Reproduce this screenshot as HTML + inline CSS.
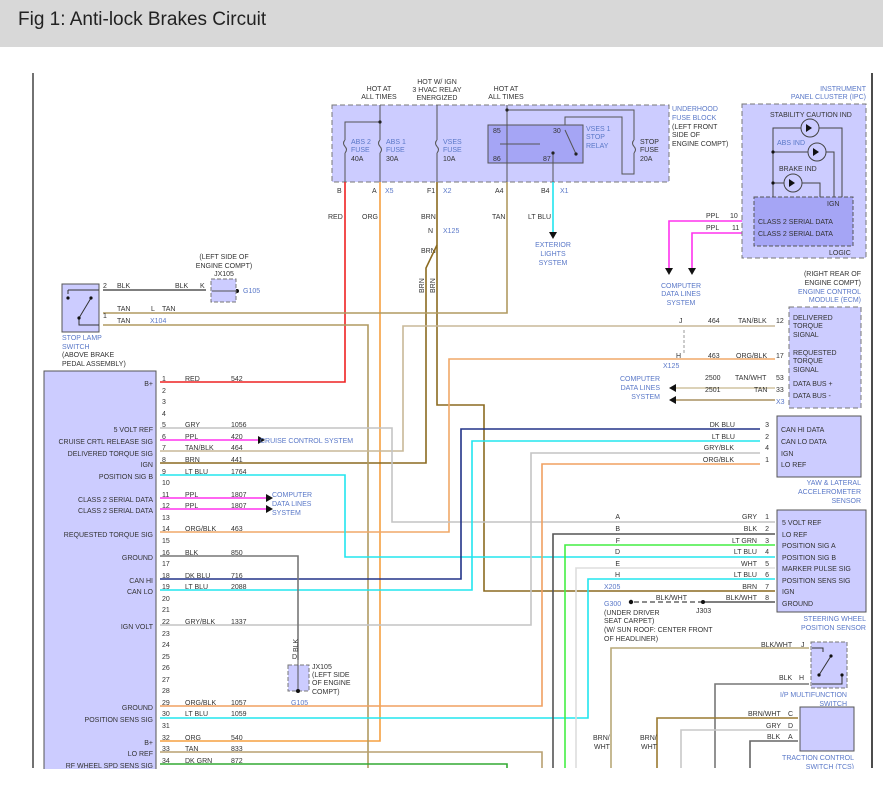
<!DOCTYPE html>
<html><head><meta charset="utf-8"><style>
html,body{margin:0;padding:0;background:#fff;width:883px;height:798px;overflow:hidden}
svg text{font-family:"Liberation Sans",sans-serif;font-size:7px;fill:#333}
svg text.b{fill:#5a78c8}
</style></head><body>
<svg width="883" height="798" viewBox="0 0 883 798" xmlns="http://www.w3.org/2000/svg">
<rect x="0" y="0" width="883" height="47" fill="#d8d8d8"/>
<text x="18" y="25" style="font-size:19px;fill:#222">Fig 1: Anti-lock Brakes Circuit</text>
<line x1="33" y1="73" x2="33" y2="768" stroke="#444" stroke-width="1.5"/>
<line x1="872" y1="73" x2="872" y2="768" stroke="#111" stroke-width="1.5"/>

<!-- fuse block -->
<rect x="332" y="105" width="337" height="77" fill="#ccccff" stroke="#777" stroke-dasharray="5,3"/>
<rect x="488" y="125" width="95" height="38" fill="#a5a5f5" stroke="#555"/>
<g stroke="#555" fill="none" stroke-width="1">
<path d="M380 105V140M380 153V182M345 182V153M345 140V122H380M437 105V140M437 153V182M507 105V182M553 153V182"/>
<path d="M345 140q-3 3 0 6.5q3 3 0 6.5M380 140q-3 3 0 6.5q3 3 0 6.5M437 140q-3 3 0 6.5q3 3 0 6.5M634 140q-3 3 0 6.5q3 3 0 6.5"/>
<path d="M507 110H634V140M634 153V174H622V117H565V125M565 130L576 154M500 144H540"/>
</g>
<g fill="#222"><circle cx="380" cy="122" r="1.6"/><circle cx="507" cy="110" r="1.6"/><circle cx="553" cy="153" r="1.6"/><circle cx="576" cy="154" r="1.6"/></g>
<text x="379" y="91" text-anchor="middle">HOT AT</text><text x="379" y="99" text-anchor="middle">ALL TIMES</text>
<text x="437" y="84" text-anchor="middle">HOT W/ IGN</text><text x="437" y="92" text-anchor="middle">3 HVAC RELAY</text><text x="437" y="100" text-anchor="middle">ENERGIZED</text>
<text x="506" y="91" text-anchor="middle">HOT AT</text><text x="506" y="99" text-anchor="middle">ALL TIMES</text>
<text x="351" y="144" class="b">ABS 2</text><text x="351" y="152" class="b">FUSE</text><text x="351" y="161">40A</text>
<text x="386" y="144" class="b">ABS 1</text><text x="386" y="152" class="b">FUSE</text><text x="386" y="161">30A</text>
<text x="443" y="144" class="b">VSES</text><text x="443" y="152" class="b">FUSE</text><text x="443" y="161">10A</text>
<text x="493" y="133">85</text><text x="493" y="161">86</text><text x="553" y="133">30</text><text x="543" y="161">87</text>
<text x="586" y="131" class="b">VSES 1</text><text x="586" y="139" class="b">STOP</text><text x="586" y="148" class="b">RELAY</text>
<text x="640" y="144">STOP</text><text x="640" y="152">FUSE</text><text x="640" y="161">20A</text>
<text x="672" y="111" class="b">UNDERHOOD</text><text x="672" y="120" class="b">FUSE BLOCK</text><text x="672" y="129">(LEFT FRONT</text><text x="672" y="137">SIDE OF</text><text x="672" y="146">ENGINE COMPT)</text>
<text x="337" y="193">B</text><text x="372" y="193">A</text><text x="385" y="193" class="b">X5</text><text x="427" y="193">F1</text><text x="443" y="193" class="b">X2</text><text x="495" y="193">A4</text><text x="541" y="193">B4</text><text x="560" y="193" class="b">X1</text>
<text x="328" y="219">RED</text><text x="362" y="219">ORG</text><text x="421" y="219">BRN</text><text x="492" y="219">TAN</text><text x="528" y="219">LT BLU</text>
<text x="428" y="233">N</text><text x="443" y="233" class="b">X125</text><text x="421" y="253">BRN</text>
<text transform="translate(424,293) rotate(-90)">BRN</text><text transform="translate(435,293) rotate(-90)">BRN</text>

<!-- wires -->
<g fill="none" stroke-width="1.6">
<path d="M345 182V382H160" stroke="#ee2222"/>
<path d="M380 182V741H160" stroke="#f5a040"/>
<path d="M437 182V405H484V591H775" stroke="#8b6a20"/>
<path d="M437 245L426 268V463H160" stroke="#8b6a20"/>
<path d="M507 182V313H103" stroke="#b09a60"/>
<path d="M103 325H368V768" stroke="#b09a60"/>
<path d="M553 182V232" stroke="#22e5ee"/>
<path d="M160 451H403V326H775" stroke="#c8b898"/>
<path d="M160 532H449V359H775" stroke="#f0a868"/>
<path d="M160 428H392V522H775" stroke="#c4c4c4"/>
<path d="M160 475H345V557H775" stroke="#22e5ee"/>
<path d="M160 579H461V429H760" stroke="#223388"/>
<path d="M160 590H472V441H760" stroke="#22e5ee"/>
<path d="M160 625H531V453H760" stroke="#c4c4c4"/>
<path d="M160 706H542V464H760" stroke="#f0a060"/>
<path d="M160 718H588V579H775" stroke="#22e5ee"/>
<path d="M160 752H542V768" stroke="#b8a070"/>
<path d="M160 764H507V768" stroke="#33aa33"/>
<path d="M160 556H298V660" stroke="#777"/>
<path d="M160 440H258" stroke="#ff33ee"/>
<path d="M160 498H266M160 509H266" stroke="#ff33ee"/>
<path d="M744 221H669V268M744 233H692V268" stroke="#ff33ee"/>
<path d="M775 534H553V768" stroke="#555"/>
<path d="M775 545H565V768" stroke="#44ee44"/>
<path d="M775 568H576V768" stroke="#dddddd"/>
<path d="M103 290H206" stroke="#555"/>
<path d="M775 388H676" stroke="#d0c4a0"/>
<path d="M775 400H676" stroke="#a89060"/>
<path d="M809 648H611V768" stroke="#b8a878"/>
<path d="M809 684H715V768" stroke="#777"/>
<path d="M798 718H657V768" stroke="#9a7a30"/>
<path d="M798 730H681V768" stroke="#c8c8c8"/>
<path d="M798 741H750V768" stroke="#666"/>
<path d="M775 602H703" stroke="#555"/>
<path d="M703 602H631" stroke="#666" stroke-dasharray="5,3"/>
</g>
<g fill="#111">
<path d="M549 232h8l-4 7z"/><path d="M258 436v8l7-4z"/><path d="M266 494v8l7-4z"/><path d="M266 505v8l7-4z"/>
<path d="M665 268h8l-4 7z"/><path d="M688 268h8l-4 7z"/><path d="M676 384v8l-7-4z"/><path d="M676 396v8l-7-4z"/>
<circle cx="703" cy="602" r="2"/><circle cx="631" cy="602" r="2.2"/>
</g>
<text x="553" y="247" text-anchor="middle" class="b">EXTERIOR</text><text x="553" y="256" text-anchor="middle" class="b">LIGHTS</text><text x="553" y="265" text-anchor="middle" class="b">SYSTEM</text>

<!-- stop lamp & JX105 -->
<rect x="62" y="284" width="37" height="48" fill="#ccccff" stroke="#555"/>
<path d="M68 290H99M68 290V294M79 318L91 298M79 318V325H99" stroke="#333" fill="none"/>
<g fill="#111"><circle cx="68" cy="298" r="1.6"/><circle cx="91" cy="298" r="1.6"/><circle cx="79" cy="318" r="1.6"/><circle cx="237" cy="291" r="2"/></g>
<text x="103" y="288">2</text><text x="117" y="288">BLK</text><text x="175" y="288">BLK</text><text x="200" y="288">K</text>
<text x="103" y="318">1</text><text x="117" y="311">TAN</text><text x="151" y="311">L</text><text x="162" y="311">TAN</text><text x="117" y="323">TAN</text><text x="150" y="323" class="b">X104</text>
<rect x="211" y="279" width="25" height="23" fill="#ccccff" stroke="#777" stroke-dasharray="4,2"/>
<path d="M212 291H236" stroke="#555"/>
<text x="224" y="259" text-anchor="middle">(LEFT SIDE OF</text><text x="224" y="268" text-anchor="middle">ENGINE COMPT)</text><text x="224" y="276" text-anchor="middle">JX105</text><text x="243" y="293" class="b">G105</text>
<text x="62" y="340" class="b">STOP LAMP</text><text x="62" y="349" class="b">SWITCH</text><text x="62" y="357">(ABOVE BRAKE</text><text x="62" y="366">PEDAL ASSEMBLY)</text>

<!-- EBCM -->
<rect x="44" y="371" width="112" height="400" fill="#ccccff" stroke="#555"/>
<g>
<text x="162" y="381">1</text><text x="162" y="393">2</text><text x="162" y="404">3</text><text x="162" y="416">4</text><text x="162" y="427">5</text><text x="162" y="439">6</text><text x="162" y="450">7</text><text x="162" y="462">8</text><text x="162" y="474">9</text><text x="162" y="485">10</text><text x="162" y="497">11</text><text x="162" y="508">12</text><text x="162" y="520">13</text><text x="162" y="531">14</text><text x="162" y="543">15</text><text x="162" y="555">16</text><text x="162" y="566">17</text><text x="162" y="578">18</text><text x="162" y="589">19</text><text x="162" y="601">20</text><text x="162" y="612">21</text><text x="162" y="624">22</text><text x="162" y="636">23</text><text x="162" y="647">24</text><text x="162" y="659">25</text><text x="162" y="670">26</text><text x="162" y="682">27</text><text x="162" y="693">28</text><text x="162" y="705">29</text><text x="162" y="716">30</text><text x="162" y="728">31</text><text x="162" y="740">32</text><text x="162" y="751">33</text><text x="162" y="763">34</text>
</g>
<g text-anchor="end">
<text x="153" y="386">B+</text><text x="153" y="432">5 VOLT REF</text><text x="153" y="444">CRUISE CRTL RELEASE SIG</text><text x="153" y="456">DELIVERED TORQUE SIG</text><text x="153" y="467">IGN</text><text x="153" y="479">POSITION SIG B</text><text x="153" y="502">CLASS 2 SERIAL DATA</text><text x="153" y="513">CLASS 2 SERIAL DATA</text><text x="153" y="537">REQUESTED TORQUE SIG</text><text x="153" y="560">GROUND</text><text x="153" y="583">CAN HI</text><text x="153" y="594">CAN LO</text><text x="153" y="629">IGN VOLT</text><text x="153" y="710">GROUND</text><text x="153" y="722">POSITION SENS SIG</text><text x="153" y="745">B+</text><text x="153" y="756">LO REF</text><text x="153" y="768">RF WHEEL SPD SENS SIG</text>
</g>
<g>
<text x="185" y="381">RED</text><text x="231" y="381">542</text>
<text x="185" y="427">GRY</text><text x="231" y="427">1056</text>
<text x="185" y="439">PPL</text><text x="231" y="439">420</text>
<text x="185" y="450">TAN/BLK</text><text x="231" y="450">464</text>
<text x="185" y="462">BRN</text><text x="231" y="462">441</text>
<text x="185" y="474">LT BLU</text><text x="231" y="474">1764</text>
<text x="185" y="497">PPL</text><text x="231" y="497">1807</text>
<text x="185" y="508">PPL</text><text x="231" y="508">1807</text>
<text x="185" y="531">ORG/BLK</text><text x="231" y="531">463</text>
<text x="185" y="555">BLK</text><text x="231" y="555">850</text>
<text x="185" y="578">DK BLU</text><text x="231" y="578">716</text>
<text x="185" y="589">LT BLU</text><text x="231" y="589">2088</text>
<text x="185" y="624">GRY/BLK</text><text x="231" y="624">1337</text>
<text x="185" y="705">ORG/BLK</text><text x="231" y="705">1057</text>
<text x="185" y="716">LT BLU</text><text x="231" y="716">1059</text>
<text x="185" y="740">ORG</text><text x="231" y="740">540</text>
<text x="185" y="751">TAN</text><text x="231" y="751">833</text>
<text x="185" y="763">DK GRN</text><text x="231" y="763">872</text>
</g>
<text x="260" y="443" class="b">CRUISE CONTROL SYSTEM</text>
<text x="272" y="497" class="b">COMPUTER</text><text x="272" y="506" class="b">DATA LINES</text><text x="272" y="515" class="b">SYSTEM</text>
<rect x="288" y="665" width="21" height="26" fill="#ccccff" stroke="#777" stroke-dasharray="4,2"/>
<path d="M298 660V691" stroke="#555"/><circle cx="298" cy="691" r="2" fill="#111"/>
<text transform="translate(298,652) rotate(-90)">BLK</text><text x="292" y="659">D</text>
<text x="312" y="669">JX105</text><text x="312" y="677">(LEFT SIDE</text><text x="312" y="685">OF ENGINE</text><text x="312" y="694">COMPT)</text><text x="291" y="705" class="b">G105</text>

<!-- IPC -->
<rect x="742" y="104" width="124" height="154" fill="#ccccff" stroke="#777" stroke-dasharray="5,3"/>
<rect x="754" y="197" width="99" height="49" fill="#a5a5f5" stroke="#555" stroke-dasharray="4,2"/>
<g stroke="#444" fill="none">
<path d="M773 197V128H842V197M773 152H834V197M773 183H820V197"/>
<circle cx="810" cy="128" r="9" fill="#ccccff"/><circle cx="817" cy="152" r="9" fill="#ccccff"/><circle cx="793" cy="183" r="9" fill="#ccccff"/>
</g>
<g fill="#111"><path d="M806 124v8l6-4z"/><path d="M813 148v8l6-4z"/><path d="M789 179v8l6-4z"/><circle cx="773" cy="152" r="1.6"/><circle cx="773" cy="183" r="1.6"/></g>
<text x="866" y="91" text-anchor="end" class="b">INSTRUMENT</text><text x="866" y="99" text-anchor="end" class="b">PANEL CLUSTER (IPC)</text>
<text x="770" y="117">STABILITY CAUTION IND</text><text x="777" y="145" class="b">ABS IND</text><text x="779" y="171">BRAKE IND</text>
<text x="827" y="206">IGN</text><text x="758" y="224">CLASS 2 SERIAL DATA</text><text x="758" y="236">CLASS 2 SERIAL DATA</text><text x="829" y="255">LOGIC</text>
<text x="706" y="218">PPL</text><text x="730" y="218">10</text><text x="706" y="230">PPL</text><text x="732" y="230">11</text>
<text x="681" y="288" text-anchor="middle" class="b">COMPUTER</text><text x="681" y="296" text-anchor="middle" class="b">DATA LINES</text><text x="681" y="305" text-anchor="middle" class="b">SYSTEM</text>

<!-- ECM -->
<rect x="789" y="307" width="72" height="101" fill="#ccccff" stroke="#777" stroke-dasharray="5,3"/>
<g text-anchor="end"><text x="861" y="276">(RIGHT REAR OF</text><text x="861" y="285">ENGINE COMPT)</text><text x="861" y="294" class="b">ENGINE CONTROL</text><text x="861" y="302" class="b">MODULE (ECM)</text></g>
<text x="793" y="320">DELIVERED</text><text x="793" y="328">TORQUE</text><text x="793" y="337">SIGNAL</text>
<text x="793" y="355">REQUESTED</text><text x="793" y="363">TORQUE</text><text x="793" y="372">SIGNAL</text>
<text x="793" y="386">DATA BUS +</text><text x="793" y="398">DATA BUS -</text>
<text x="708" y="323">464</text><text x="738" y="323">TAN/BLK</text><text x="776" y="323">12</text><text x="679" y="323">J</text>
<text x="708" y="358">463</text><text x="736" y="358">ORG/BLK</text><text x="776" y="358">17</text><text x="676" y="358">H</text><text x="663" y="368" class="b">X125</text>
<path d="M684 330V355" stroke="#999" stroke-dasharray="3,2"/>
<text x="705" y="380">2500</text><text x="735" y="380">TAN/WHT</text><text x="776" y="380">53</text>
<text x="705" y="392">2501</text><text x="754" y="392">TAN</text><text x="776" y="392">33</text><text x="776" y="404" class="b">X3</text>
<g text-anchor="end"><text x="660" y="381" class="b">COMPUTER</text><text x="660" y="390" class="b">DATA LINES</text><text x="660" y="399" class="b">SYSTEM</text></g>

<!-- yaw -->
<rect x="777" y="416" width="84" height="61" fill="#ccccff" stroke="#555"/>
<text x="781" y="432">CAN HI DATA</text><text x="781" y="444">CAN LO DATA</text><text x="781" y="456">IGN</text><text x="781" y="467">LO REF</text>
<g text-anchor="end"><text x="735" y="427">DK BLU</text><text x="735" y="439">LT BLU</text><text x="734" y="450">GRY/BLK</text><text x="734" y="462">ORG/BLK</text>
<text x="769" y="427">3</text><text x="769" y="439">2</text><text x="769" y="450">4</text><text x="769" y="462">1</text>
<text x="861" y="485" class="b">YAW &amp; LATERAL</text><text x="861" y="494" class="b">ACCELEROMETER</text><text x="861" y="503" class="b">SENSOR</text></g>

<!-- steering -->
<rect x="777" y="510" width="89" height="102" fill="#ccccff" stroke="#555"/>
<text x="782" y="525">5 VOLT REF</text><text x="782" y="537">LO REF</text><text x="782" y="548">POSITION SIG A</text><text x="782" y="560">POSITION SIG B</text><text x="782" y="571">MARKER PULSE SIG</text><text x="782" y="583">POSITION SENS SIG</text><text x="782" y="594">IGN</text><text x="782" y="606">GROUND</text>
<g text-anchor="end"><text x="757" y="519">GRY</text><text x="757" y="531">BLK</text><text x="757" y="543">LT GRN</text><text x="757" y="554">LT BLU</text><text x="757" y="566">WHT</text><text x="757" y="577">LT BLU</text><text x="757" y="589">BRN</text><text x="757" y="600">BLK/WHT</text><text x="687" y="600">BLK/WHT</text>
<text x="769" y="519">1</text><text x="769" y="531">2</text><text x="769" y="543">3</text><text x="769" y="554">4</text><text x="769" y="566">5</text><text x="769" y="577">6</text><text x="769" y="589">7</text><text x="769" y="600">8</text>
<text x="620" y="519">A</text><text x="620" y="531">B</text><text x="620" y="543">F</text><text x="620" y="554">D</text><text x="620" y="566">E</text><text x="620" y="577">H</text>
<text x="866" y="621" class="b">STEERING WHEEL</text><text x="866" y="630" class="b">POSITION SENSOR</text></g>
<text x="604" y="589" class="b">X205</text><text x="604" y="606" class="b">G300</text><text x="696" y="613">J303</text>
<text x="604" y="615">(UNDER DRIVER</text><text x="604" y="623">SEAT CARPET)</text><text x="604" y="632">(W/ SUN ROOF: CENTER FRONT</text><text x="604" y="641">OF HEADLINER)</text>

<!-- I/P switch -->
<rect x="811" y="642" width="36" height="46" fill="#ccccff" stroke="#777" stroke-dasharray="4,2"/>
<path d="M812 648H823V652M819 675L831 656M842 675V684H812" stroke="#333" fill="none"/>
<g fill="#111"><circle cx="831" cy="656" r="1.6"/><circle cx="819" cy="675" r="1.6"/><circle cx="842" cy="675" r="1.6"/></g>
<text x="761" y="647">BLK/WHT</text><text x="801" y="647">J</text><text x="779" y="680">BLK</text><text x="799" y="680">H</text>
<text x="847" y="697" text-anchor="end" class="b">I/P MULTIFUNCTION</text><text x="847" y="706" text-anchor="end" class="b">SWITCH</text>

<!-- TCS -->
<rect x="800" y="707" width="54" height="44" fill="#ccccff" stroke="#555"/>
<text x="748" y="716">BRN/WHT</text><text x="788" y="716">C</text><text x="766" y="728">GRY</text><text x="788" y="728">D</text><text x="767" y="739">BLK</text><text x="788" y="739">A</text>
<text x="854" y="760" text-anchor="end" class="b">TRACTION CONTROL</text><text x="854" y="769" text-anchor="end" class="b">SWITCH (TCS)</text>
<text x="593" y="740">BRN/</text><text x="594" y="749">WHT</text><text x="640" y="740">BRN/</text><text x="641" y="749">WHT</text>
<rect x="0" y="769" width="883" height="29" fill="#fff"/>
</svg>
</body></html>
